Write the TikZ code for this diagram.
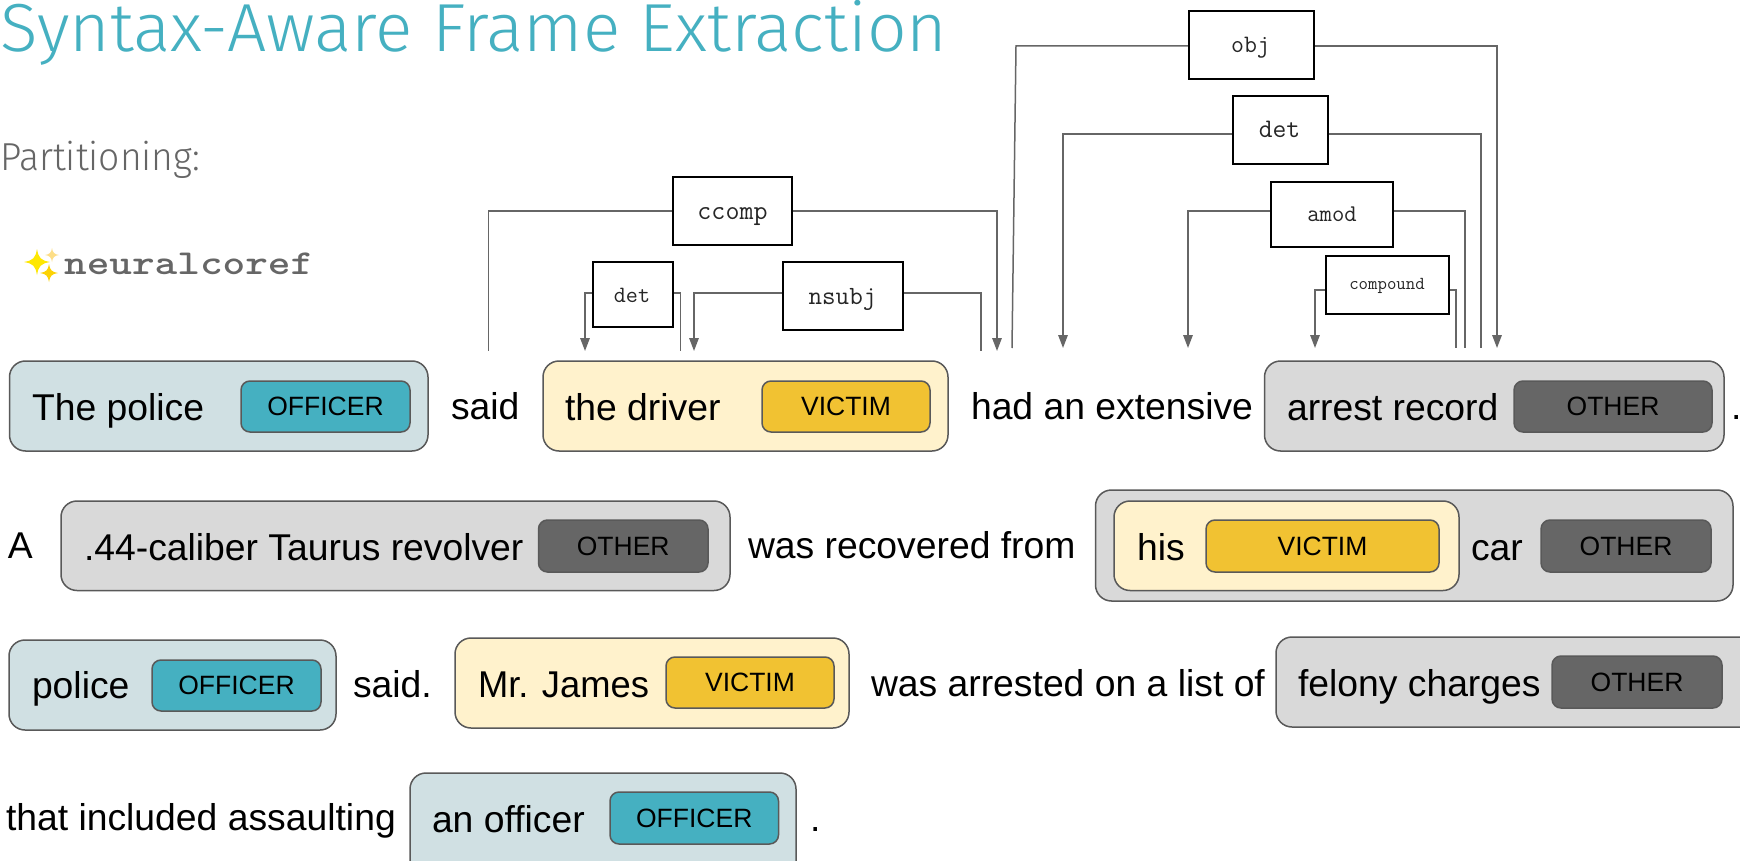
\documentclass[tikz,border=0pt]{standalone}
\usepackage{fontspec}
\setmainfont{Liberation Sans}
\newfontfamily\lightfont{Fira Sans Light}
\usetikzlibrary{arrows.meta}
\definecolor{titlecol}{HTML}{45B0C1}
\definecolor{offbg}{HTML}{D0E0E3}
\definecolor{offpill}{HTML}{45B0C1}
\definecolor{vicbg}{HTML}{FFF2CC}
\definecolor{vicpill}{HTML}{F1C232}
\definecolor{othbg}{HTML}{D9D9D9}
\definecolor{othpill}{HTML}{666666}
\definecolor{edge}{HTML}{595959}
\definecolor{conn}{HTML}{666666}
\tikzset{
  spanbox/.style={draw=edge,line width=1.5pt,rounded corners=16pt,inner sep=0pt,outer sep=0pt},
  pillbox/.style={draw=edge,line width=1.5pt,rounded corners=9pt,inner sep=0pt,outer sep=0pt,
     font=\fontsize{26.5}{30}\selectfont,text=black},
  depbox/.style={draw=black,line width=2pt,fill=white,inner sep=0pt,outer sep=0pt,text=black},
  word/.style={anchor=base west,inner sep=0pt,outer sep=0pt,yshift=-1pt,font=\fontsize{37.3}{44}\selectfont,text=black},
  monolab/.style={anchor=base,inner sep=0pt,outer sep=0pt,yshift=-1pt,text=black!85},
  plain/.style={draw=conn,line width=1.5pt},
  arrowed/.style={plain,-{Triangle[length=13pt,width=9.5pt]}}
}
% \rbox{name}{x1}{y1}{x2}{y2}{style}{text}
\newcommand{\rbox}[7]{%
  \pgfmathsetmacro{\mycx}{(#2+#4)/2}\pgfmathsetmacro{\mycy}{(#3+#5)/2}%
  \pgfmathsetmacro{\myw}{#4-#2}\pgfmathsetmacro{\myh}{#5-#3}%
  \node[#6,minimum width=\myw pt,minimum height=\myh pt] (#1) at (\mycx,\mycy) {#7};}
\newcommand{\spark}[4]{%
  \fill[#4] (#1,#2-#3) .. controls (#1+.12*#3,#2-.3*#3) and (#1+.3*#3,#2-.12*#3) .. (#1+#3,#2)
    .. controls (#1+.3*#3,#2+.12*#3) and (#1+.12*#3,#2+.3*#3) .. (#1,#2+#3)
    .. controls (#1-.12*#3,#2+.3*#3) and (#1-.3*#3,#2+.12*#3) .. (#1-#3,#2)
    .. controls (#1-.3*#3,#2-.12*#3) and (#1-.12*#3,#2-.3*#3) .. (#1,#2-#3) -- cycle;}
\begin{document}
\begin{tikzpicture}[x=1pt,y=-1pt]
\useasboundingbox (0,0) rectangle (1740,861);
\clip (0,0) rectangle (1740,861);
\fill[white] (0,0) rectangle (1740,861);

% title and side texts
\node[anchor=base west,inner sep=0pt,text=titlecol,font=\lightfont\fontsize{68}{80}\selectfont] (title) at (0,52) {\resizebox{947pt}{\height}{Syntax-Aware Frame Extraction}};
\node[anchor=base west,inner sep=0pt,text=conn,font=\lightfont\fontsize{39}{46}\selectfont] (part) at (0,171) {\resizebox{200pt}{\height}{Partitioning:}};
\spark{37}{262}{13}{yellow!90!orange}
\spark{52}{255}{7}{yellow!50!orange!45}
\spark{49}{273}{9}{yellow!70!orange}
\node[anchor=base west,inner sep=0pt,text=conn,font=\ttfamily\bfseries\fontsize{35}{40}\selectfont] (ncoref) at (64,274) {\resizebox{249pt}{\height}{neuralcoref}};

% row 1
\rbox{policebox}{9.5}{361}{428}{451}{spanbox,fill=offbg}{}
\rbox{policepill}{241}{381}{410}{432}{pillbox,fill=offpill}{OFFICER}
\node[word] (police) at (32,419) {The police};
\node[word] (said) at (451,418) {said};
\rbox{driverbox}{543}{361}{948}{451}{spanbox,fill=vicbg}{}
\rbox{driverpill}{762}{381}{930}{432}{pillbox,fill=vicpill}{VICTIM}
\node[word] (driver) at (565,419) {the driver};
\node[word] (had) at (971,418) {had an extensive};
\rbox{arrestbox}{1264.5}{361}{1724}{451}{spanbox,fill=othbg}{}
\rbox{arrestpill}{1514}{381}{1712}{432}{pillbox,fill=othpill}{OTHER}
\node[word] (arrest) at (1287,419) {arrest record};
\node[word] (dot1) at (1731,418) {.};

% row 2
\node[word] (a) at (8,557) {A};
\rbox{revbox}{61}{501}{730}{590.5}{spanbox,fill=othbg}{}
\rbox{revpill}{538.5}{520}{708}{572}{pillbox,fill=othpill}{OTHER}
\node[word] (rev) at (84,559) {.44-caliber Taurus revolver};
\node[word] (recovered) at (748,557) {was recovered from};
\rbox{carbox}{1095.5}{490}{1733}{601}{spanbox,fill=othbg}{}
\rbox{hisbox}{1114}{501}{1459}{590.5}{spanbox,fill=vicbg}{}
\rbox{hispill}{1206}{520}{1439}{572}{pillbox,fill=vicpill}{VICTIM}
\node[word] (his) at (1137,559) {his};
\node[word] (car) at (1471,559) {car};
\rbox{carpill}{1541}{520}{1711}{572}{pillbox,fill=othpill}{OTHER}

% row 3
\rbox{pol2box}{9}{640}{336}{730}{spanbox,fill=offbg}{}
\rbox{pol2pill}{152}{660}{321}{711}{pillbox,fill=offpill}{OFFICER}
\node[word] (pol2) at (32,697) {police};
\node[word] (said2) at (353,696) {said.};
\rbox{jamesbox}{455}{638}{849}{728}{spanbox,fill=vicbg}{}
\rbox{jamespill}{666}{657}{834}{708}{pillbox,fill=vicpill}{VICTIM}
\node[word] (james) at (478,696) {\resizebox{171pt}{\height}{Mr. James}};
\node[word] (arrested) at (871,695) {was arrested on a list of};
\rbox{felonybox}{1276}{637}{1760}{727}{spanbox,fill=othbg}{}
\rbox{felonypill}{1552}{656}{1722}{708}{pillbox,fill=othpill}{OTHER}
\node[word] (felony) at (1298,695) {felony charges};

% row 4
\node[word] (included) at (6,829) {that included assaulting};
\rbox{offbox}{410}{773}{796}{880}{spanbox,fill=offbg}{}
\rbox{offpill}{610}{792}{778.5}{844}{pillbox,fill=offpill}{OFFICER}
\node[word] (off) at (432,831) {an officer};
\node[word] (dot2) at (810,830) {.};

% connector end points
\coordinate (ccompL) at (488.5,351);
\coordinate (ccompR) at (997,351);
\coordinate (detL) at (585,351);
\coordinate (detR) at (680.5,351);
\coordinate (nsubjL) at (694,351);
\coordinate (nsubjR) at (981,351);
\coordinate (objK) at (1016,46);
\coordinate (objL) at (1012,348);
\coordinate (objR) at (1497,348);
\coordinate (det2L) at (1063,348);
\coordinate (det2R) at (1481,348);
\coordinate (amodL) at (1188,348);
\coordinate (amodR) at (1465,348);
\coordinate (compL) at (1315,348);
\coordinate (compR) at (1456,348);

% connectors
\coordinate (ccompA) at (673,211);\coordinate (ccompB) at (792,211);
\coordinate (detA) at (592.5,293);\coordinate (detB) at (673,293);
\coordinate (nsubjA) at (783,293);\coordinate (nsubjB) at (902.5,293);
\coordinate (objA) at (1189,46);\coordinate (objB) at (1314,46);
\coordinate (det2A) at (1233,134);\coordinate (det2B) at (1328,134);
\coordinate (amodA) at (1271,211);\coordinate (amodB) at (1393,211);
\coordinate (compA) at (1326,290);\coordinate (compB) at (1448.5,290);
\draw[plain] (ccompA) -| (ccompL);
\draw[arrowed] (ccompB) -| (ccompR);
\draw[arrowed] (detA) -| (detL);
\draw[plain] (detB) -| (detR);
\draw[arrowed] (nsubjA) -| (nsubjL);
\draw[plain] (nsubjB) -| (nsubjR);
\draw[plain] (objA) -- (objK) -- (objL);
\draw[arrowed] (objB) -| (objR);
\draw[arrowed] (det2A) -| (det2L);
\draw[plain] (det2B) -| (det2R);
\draw[arrowed] (amodA) -| (amodL);
\draw[plain] (amodB) -| (amodR);
\draw[arrowed] (compA) -| (compL);
\draw[plain] (compB) -| (compR);

% dependency labels
\rbox{ccomp}{673}{177}{792}{245}{depbox}{}
\node[monolab,font=\ttfamily\fontsize{27.2}{30}\selectfont] (ccompt) at (732.5,218) {ccomp};
\rbox{det}{592.5}{262}{673}{327}{depbox}{}
\node[monolab,font=\ttfamily\fontsize{23.4}{28}\selectfont] (dett) at (632,301) {det};
\rbox{nsubj}{783}{262}{902.5}{330}{depbox}{}
\node[monolab,font=\ttfamily\fontsize{26.3}{30}\selectfont] (nsubjt) at (842.5,303) {nsubj};
\rbox{obj}{1189}{11}{1314}{79}{depbox}{}
\node[monolab,font=\ttfamily\fontsize{25.1}{30}\selectfont] (objt) at (1250.5,52) {obj};
\rbox{det2}{1233}{96}{1328}{164}{depbox}{}
\node[monolab,font=\ttfamily\fontsize{26.8}{30}\selectfont] (det2t) at (1279.5,137) {det};
\rbox{amod}{1271}{182}{1393}{247}{depbox}{}
\node[monolab,font=\ttfamily\fontsize{24}{28}\selectfont] (amodt) at (1332,221) {amod};
\rbox{compound}{1326}{256}{1448.5}{314}{depbox}{}
\node[monolab,font=\ttfamily\fontsize{18.3}{22}\selectfont] (compt) at (1387,288) {compound};
\end{tikzpicture}
\end{document}
